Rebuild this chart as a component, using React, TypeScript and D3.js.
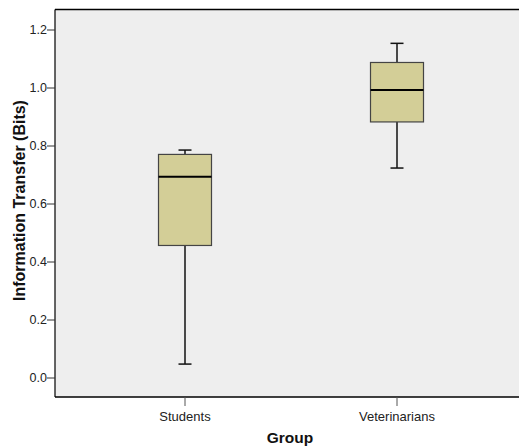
import React from "react";
import * as d3 from "d3";

const categories = ["Students", "Veterinarians"];
const whiskerLow = [0.048, 0.724];
const q1 = [0.457, 0.883];
const medians = [0.694, 0.993];
const q3 = [0.771, 1.088];
const whiskerHigh = [0.786, 1.154];
const yTicks = [0.0, 0.2, 0.4, 0.6, 0.8, 1.0, 1.2];

const W = 519;
const H = 448;
const left = 55;
const top = 9.5;
const bottom = 397;
const right = 527;

export default function App() {
  const y = d3.scaleLinear().domain([0, 1.2]).range([378, 30]);
  const x = d3
    .scalePoint<string>()
    .domain(categories)
    .range([185, 397]);
  const boxW = 53;
  const capW = 13;
  const font = "'Liberation Sans', Arial, sans-serif";
  return (
    <svg width={W} height={H} style={{ position: "absolute", left: 0, top: 0 }}>
      <rect x={left} y={top} width={right - left} height={bottom - top} fill="#eeeeee" />
      <line x1={left} x2={right} y1={top} y2={top} stroke="#000" strokeWidth={1.5} />
      <line x1={left} x2={right} y1={bottom} y2={bottom} stroke="#000" strokeWidth={1.5} />
      <line x1={left} x2={left} y1={top} y2={bottom} stroke="#000" strokeWidth={1.2} />
      {yTicks.map((t) => (
        <g key={t}>
          <line x1={left - 8} x2={left} y1={y(t)} y2={y(t)} stroke="#333" strokeWidth={1} />
          <text
            x={left - 8}
            y={y(t)}
            dy="0.35em"
            textAnchor="end"
            fontFamily={font}
            fontSize={12.5}
            fill="#222"
          >
            {t.toFixed(1)}
          </text>
        </g>
      ))}
      {categories.map((c, i) => {
        const cx = x(c)!;
        return (
          <g key={c}>
            <line x1={cx} x2={cx} y1={bottom} y2={bottom + 9} stroke="#555" strokeWidth={1} />
            <text x={cx} y={421} textAnchor="middle" fontFamily={font} fontSize={13} fill="#222">
              {c}
            </text>
            <line x1={cx} x2={cx} y1={y(whiskerLow[i])} y2={y(q1[i])} stroke="#111" strokeWidth={1.5} />
            <line x1={cx} x2={cx} y1={y(q3[i])} y2={y(whiskerHigh[i])} stroke="#111" strokeWidth={1.5} />
            <line
              x1={cx - capW / 2}
              x2={cx + capW / 2}
              y1={y(whiskerLow[i])}
              y2={y(whiskerLow[i])}
              stroke="#111"
              strokeWidth={1.5}
            />
            <line
              x1={cx - capW / 2}
              x2={cx + capW / 2}
              y1={y(whiskerHigh[i])}
              y2={y(whiskerHigh[i])}
              stroke="#111"
              strokeWidth={1.5}
            />
            <rect
              x={cx - boxW / 2}
              y={y(q3[i])}
              width={boxW}
              height={y(q1[i]) - y(q3[i])}
              fill="#d3ce97"
              stroke="#444"
              strokeWidth={1.2}
            />
            <line
              x1={cx - boxW / 2}
              x2={cx + boxW / 2}
              y1={y(medians[i])}
              y2={y(medians[i])}
              stroke="#000"
              strokeWidth={2}
            />
          </g>
        );
      })}
      <text
        x={290}
        y={443}
        textAnchor="middle"
        fontFamily={font}
        fontSize={15.5}
        fontWeight="bold"
        fill="#111"
      >
        Group
      </text>
      <text
        transform={`translate(25, 200.5) rotate(-90)`}
        textAnchor="middle"
        fontFamily={font}
        fontSize={16}
        fontWeight="bold"
        fill="#111"
      >
        Information Transfer (Bits)
      </text>
    </svg>
  );
}
